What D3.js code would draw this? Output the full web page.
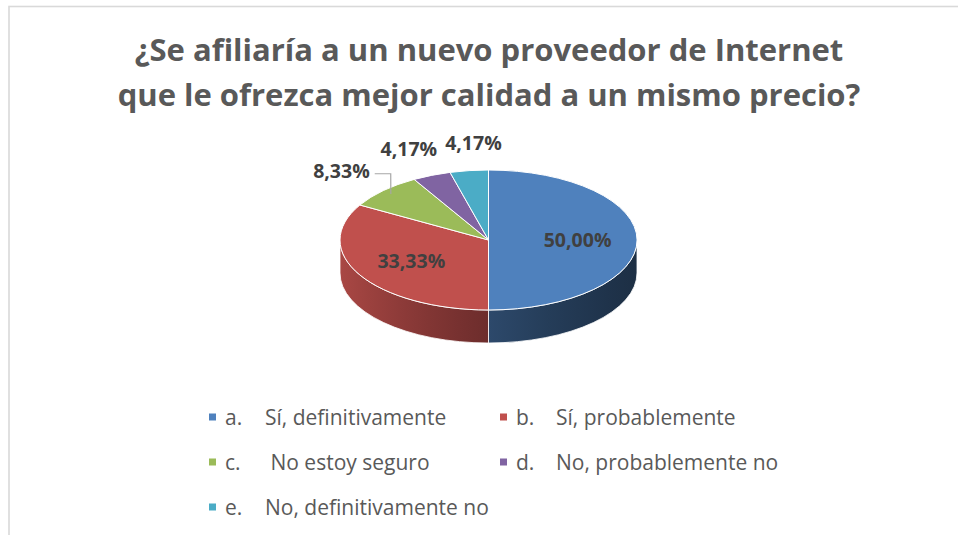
<!DOCTYPE html>
<html>
<head>
<meta charset="utf-8">
<script src="https://cdn.jsdelivr.net/npm/d3@7"></script>
<style>
  body { margin: 0; background: #fff; }
  svg { display: block; }
</style>
</head>
<body>
<svg id="chart" width="958" height="535"></svg>
<script>
var titleLines = ['¿Se afiliaría a un nuevo proveedor de Internet', 'que le ofrezca mejor calidad a un mismo precio?'];
var letters = ['a.', 'b.', 'c.', 'd.', 'e.'];
var categories = ['Sí, definitivamente', 'Sí, probablemente', ' No estoy seguro', 'No, probablemente no', 'No, definitivamente no'];
var percents = [50.00, 33.33, 8.33, 4.17, 4.17];
var colors = ['#4f81bd', '#c0504d', '#9bbb59', '#8064a2', '#4bacc6'];

var pie3d = {cx: 488.5, cy: 240, rx: 148.5, ry: 70, depth: 33};
var legendCols = [209, 500];
var legendRows = [417, 462, 507];
var outsideK = 1.4; // label radius for the small slices

var svg = d3.select('#chart');

// frame
svg.append('rect')
  .attr('x', 9).attr('y', 6.5)
  .attr('width', 980).attr('height', 560)
  .style('fill', '#fff')
  .style('stroke', '#d9d9d9')
  .style('stroke-width', 1.6);

// title
svg.append('g').selectAll('text')
  .data(titleLines)
  .enter()
  .append('text')
  .attr('x', 489)
  .attr('y', (d, i) => 61 + i * 45)
  .attr('text-anchor', 'middle')
  .style('font-family', '"Open Sans", sans-serif')
  .style('font-weight', 700)
  .style('font-size', '31px')
  .style('fill', '#595959')
  .text(d => d);

// ellipse point at angle a (clockwise from 12 o'clock), k = radius factor
function pt(a, k, dy) {
  k = k === undefined ? 1 : k;
  return [pie3d.cx + k * pie3d.rx * Math.sin(a), pie3d.cy - k * pie3d.ry * Math.cos(a) + (dy || 0)];
}

var arcs = d3.pie().sort(null).value(d => d)(percents);

// side shading: lit from the left, darker to the right
var defs = svg.append('defs');
arcs.forEach(function (d, i) {
  var grad = defs.append('linearGradient')
    .attr('id', `side-${i}`)
    .attr('gradientUnits', 'userSpaceOnUse')
    .attr('x1', pie3d.cx - pie3d.rx).attr('x2', pie3d.cx + pie3d.rx)
    .attr('y1', 0).attr('y2', 0);
  d3.range(0, 1.001, 0.1).forEach(function (t) {
    var s = t * 2 - 1; // -1 left .. 1 right
    grad.append('stop')
      .attr('offset', t)
      .attr('stop-color', d3.color(colors[i]).darker(1.6 + 1.25 * s));
  });
});

function sidePath(d) {
  var s0 = Math.max(d.startAngle, Math.PI / 2);
  var s1 = Math.min(d.endAngle, 3 * Math.PI / 2);
  if (s0 >= s1) return null;
  var p0 = pt(s0), p1 = pt(s1), q1 = pt(s1, 1, pie3d.depth), q0 = pt(s0, 1, pie3d.depth);
  return `M${p0} A${pie3d.rx},${pie3d.ry} 0 0 1 ${p1} L${q1} A${pie3d.rx},${pie3d.ry} 0 0 0 ${q0} Z`;
}

function topPath(d) {
  var p0 = pt(d.startAngle), p1 = pt(d.endAngle);
  var large = d.endAngle - d.startAngle > Math.PI ? 1 : 0;
  return `M${pie3d.cx},${pie3d.cy} L${p0} A${pie3d.rx},${pie3d.ry} 0 ${large} 1 ${p1} Z`;
}

svg.append('g').selectAll('path')
  .data(arcs.filter(d => sidePath(d)))
  .enter()
  .append('path')
  .attr('d', sidePath)
  .style('fill', d => `url(#side-${d.index})`)
  .style('stroke', '#fff')
  .style('stroke-width', 0.8);

svg.append('g').selectAll('path')
  .data(arcs)
  .enter()
  .append('path')
  .attr('d', topPath)
  .style('fill', (d, i) => colors[i])
  .style('stroke', '#fff')
  .style('stroke-width', 1);

// data labels
var labels = arcs.map(function (d, i) {
  var mid = (d.startAngle + d.endAngle) / 2;
  var inside = percents[i] > 20;
  var p = pt(mid, inside ? 0.6 : outsideK);
  return {i: i, mid: mid, inside: inside, x: p[0], y: p[1],
          text: percents[i].toFixed(2).replace('.', ',') + '%'};
});

var lg = svg.append('g');
var labelTexts = lg.selectAll('text')
  .data(labels)
  .enter()
  .append('text')
  .attr('text-anchor', 'middle')
  .attr('dy', '0.35em')
  .style('font-family', '"Open Sans", sans-serif')
  .style('font-weight', 700)
  .style('font-size', '19.5px')
  .style('fill', '#404040')
  .text(d => d.text);

labelTexts.each(function (d) { d.w = this.getComputedTextLength(); });

// push overlapping outside labels apart
var outside = labels.filter(d => !d.inside).sort((a, b) => a.x - b.x);
for (var j = 1; j < outside.length; j++) {
  var prev = outside[j - 1], cur = outside[j];
  if (Math.abs(prev.y - cur.y) < 20) {
    var minX = prev.x + prev.w / 2 + 8 + cur.w / 2;
    if (cur.x < minX) cur.x = minX;
  }
}
labelTexts.attr('x', d => d.x).attr('y', d => d.y);

// leader lines for labels sitting away from their slice
outside.forEach(function (d) {
  var rim = pt(d.mid);
  var right = d.x + d.w / 2;
  if (rim[0] - right > 10) {
    var start = [right + 5, d.y + 3];
    var bend = [start[0] + 16, start[1]];
    var end = pt(d.mid, 0.93);
    lg.append('path')
      .attr('d', d3.line()([start, bend, end]))
      .style('fill', 'none')
      .style('stroke', '#a6a6a6')
      .style('stroke-width', 1.2);
  }
});

// legend
var legend = svg.append('g').selectAll('g')
  .data(categories)
  .enter()
  .append('g')
  .attr('transform', (d, i) => `translate(${legendCols[i % 2]}, ${legendRows[Math.floor(i / 2)]})`);

legend.append('rect')
  .attr('x', 0).attr('y', -3.5)
  .attr('width', 7).attr('height', 7)
  .style('fill', (d, i) => colors[i]);

legend.append('text')
  .attr('x', 16).attr('y', 7.5)
  .style('font-family', '"Open Sans", sans-serif')
  .style('font-size', '21px')
  .style('fill', '#595959')
  .text((d, i) => letters[i]);

legend.append('text')
  .attr('x', 56).attr('y', 7.5)
  .attr('xml:space', 'preserve')
  .style('white-space', 'pre')
  .style('font-family', '"Open Sans", sans-serif')
  .style('font-size', '21px')
  .style('fill', '#595959')
  .text(d => d);
</script>
</body>
</html>
